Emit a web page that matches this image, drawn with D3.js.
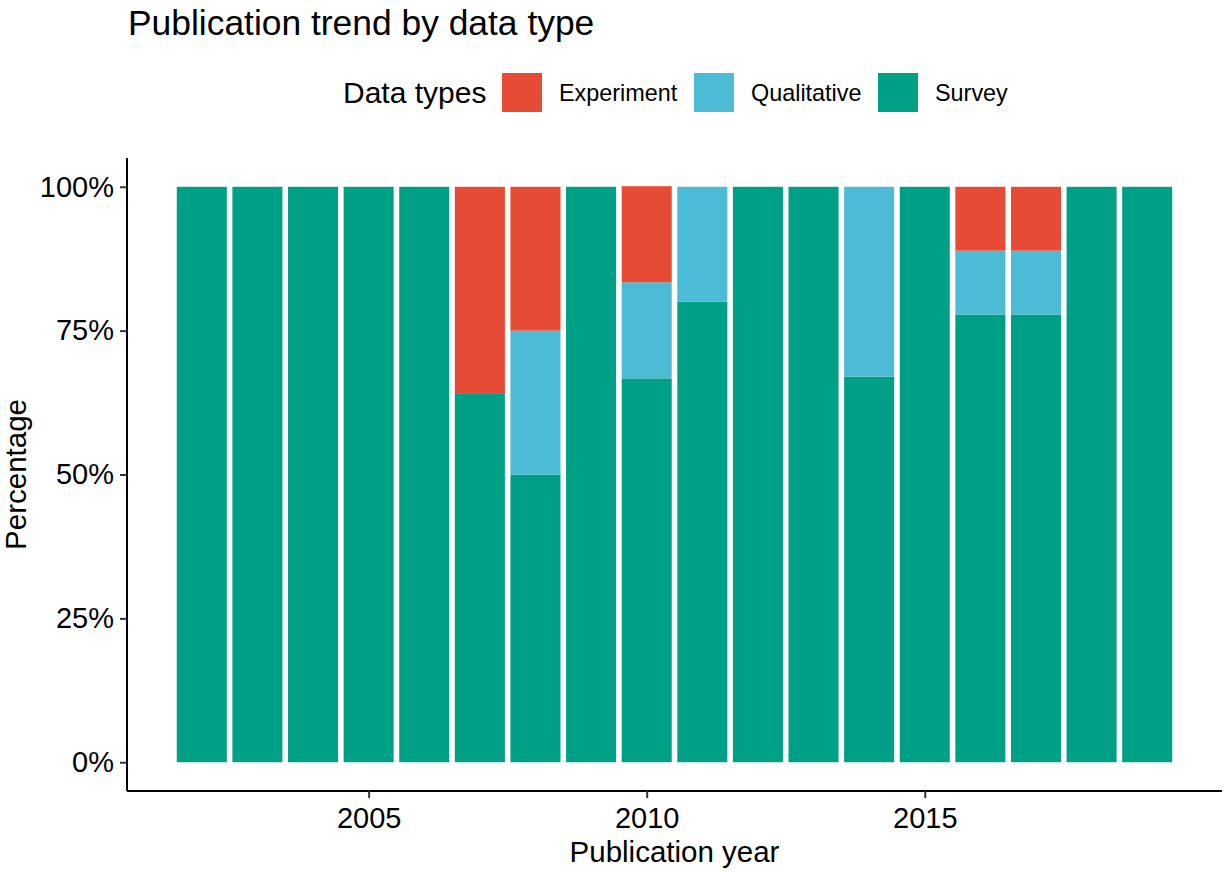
<!DOCTYPE html>
<html>
<head>
<meta charset="utf-8">
<script src="https://cdn.jsdelivr.net/npm/d3@7"></script>
<style>
  body { margin: 0; background: #fff; }
  svg { font-family: "Liberation Sans", Arial, Helvetica, sans-serif; }
</style>
</head>
<body>
<svg id="chart" width="1225" height="872"></svg>
<script>
const years = [2002,2003,2004,2005,2006,2007,2008,2009,2010,2011,2012,2013,2014,2015,2016,2017,2018,2019];
const survey      = [1,1,1,1,1,0.64,0.50,1,0.667,0.80,1,1,0.67,1,0.778,0.778,1,1];
const qualitative = [0,0,0,0,0,0,   0.25,0,0.167,0.20,0,0,0.33,0,0.111,0.111,0,0];
const experiment  = [0,0,0,0,0,0.36,0.25,0,0.167,0,   0,0,0,   0,0.111,0.111,0,0];
const types = ["Experiment","Qualitative","Survey"];
const colors = ["#E64B35","#4DBBD5","#00A087"];
const yTicks = [0,0.25,0.5,0.75,1];
const xTicks = [2005,2010,2015];

const svg = d3.select("#chart");
const pLeft = 127, pRight = 1222, pTop = 158, pBottom = 791;
const barW = 0.9;

const xMin = d3.min(years) - barW/2, xMax = d3.max(years) + barW/2;
const xPad = (xMax - xMin) * 0.05;
const x = d3.scaleLinear().domain([xMin - xPad, xMax + xPad]).range([pLeft, pRight]);
const y = d3.scaleLinear().domain([-0.05, 1.05]).range([pBottom, pTop]);
const color = d3.scaleOrdinal().domain(types).range(colors);

const rows = years.map((yr, i) => ({year: yr, Survey: survey[i], Qualitative: qualitative[i], Experiment: experiment[i]}));
const stack = d3.stack().keys(["Survey","Qualitative","Experiment"]);
const series = stack(rows);

const g = svg.append("g");
series.forEach(s => {
  g.selectAll(null).data(s.filter(d => d[1] - d[0] > 0)).enter().append("rect")
    .attr("x", d => x(d.data.year - barW/2))
    .attr("width", d => x(d.data.year + barW/2) - x(d.data.year - barW/2))
    .attr("y", d => y(d[1]))
    .attr("height", d => y(d[0]) - y(d[1]))
    .attr("fill", color(s.key));
});

// axes
const yAxis = d3.axisLeft(y).tickValues(yTicks).tickFormat(d3.format(".0%")).tickSize(7).tickPadding(6);
const yg = svg.append("g").attr("transform", `translate(${pLeft},0)`).call(yAxis);
yg.select(".domain").attr("d", `M0,${pTop}V${pBottom}`).attr("stroke", "#000").attr("stroke-width", 2);
yg.selectAll(".tick line").attr("stroke", "#333").attr("stroke-width", 2);
yg.selectAll(".tick text").attr("font-size", 29).attr("fill", "#000").attr("font-family", "Liberation Sans, Arial, sans-serif");

const xAxis = d3.axisBottom(x).tickValues(xTicks).tickFormat(d3.format("d")).tickSize(7).tickPadding(9);
const xg = svg.append("g").attr("transform", `translate(0,${pBottom})`).call(xAxis);
xg.select(".domain").attr("d", `M${pLeft},0H${pRight}`).attr("stroke", "#000").attr("stroke-width", 2);
xg.selectAll(".tick line").attr("stroke", "#333").attr("stroke-width", 2);
xg.selectAll(".tick text").attr("font-size", 29).attr("fill", "#000").attr("font-family", "Liberation Sans, Arial, sans-serif");

// axis titles
svg.append("text").attr("x", (pLeft + pRight) / 2).attr("y", 862).attr("text-anchor", "middle")
  .attr("font-size", 29.5).attr("fill", "#000").text("Publication year");
svg.append("text").attr("transform", `translate(26,${(pTop + pBottom) / 2}) rotate(-90)`).attr("text-anchor", "middle")
  .attr("font-size", 29.5).attr("fill", "#000").text("Percentage");

// title
svg.append("text").attr("x", 128).attr("y", 35).attr("font-size", 35.4).attr("fill", "#000")
  .text("Publication trend by data type");

// legend
svg.append("text").attr("x", 343).attr("y", 103).attr("font-size", 30).attr("fill", "#000").text("Data types");
const legX = [502, 694, 878];
types.forEach((t, i) => {
  svg.append("rect").attr("x", legX[i]).attr("y", 73).attr("width", 40).attr("height", 39).attr("fill", color(t));
  svg.append("text").attr("x", legX[i] + 57).attr("y", 101).attr("font-size", 23.4).attr("fill", "#000").text(t);
});
</script>
</body>
</html>
